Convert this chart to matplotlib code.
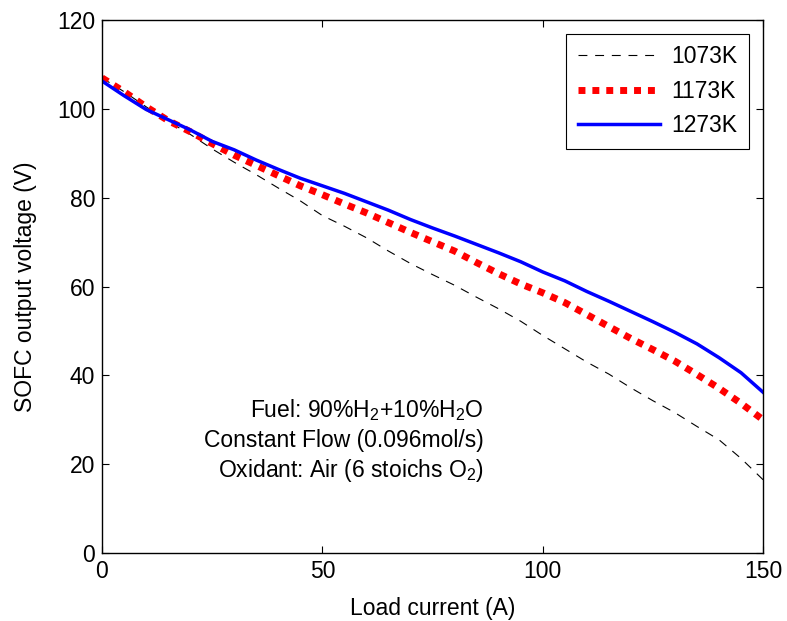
import matplotlib
matplotlib.use("Agg")
import matplotlib.pyplot as plt

# SOFC polarisation curves at three operating temperatures
current = [0, 5, 10, 15, 20, 25, 30, 35, 40, 45, 50, 55, 60, 65, 70, 75,
           80, 85, 90, 95, 100, 105, 110, 115, 120, 125, 130, 135, 140, 145, 150]

v_1073 = [107.0, 103.9, 100.5, 97.2, 94.3, 91.0, 88.0, 85.2, 82.2, 79.3,
          76.0, 73.6, 71.0, 68.0, 65.2, 62.7, 60.3, 57.6, 55.0, 52.2,
          49.0, 46.0, 43.0, 40.3, 37.2, 34.3, 31.6, 28.5, 25.5, 21.3, 16.5]

v_1173 = [107.0, 103.9, 100.5, 97.4, 94.9, 92.2, 89.6, 87.3, 85.0, 82.7,
          80.7, 78.6, 76.6, 74.4, 72.2, 70.1, 68.0, 65.4, 62.9, 60.6,
          58.6, 56.4, 53.7, 51.0, 48.3, 45.8, 43.2, 40.2, 37.1, 33.7, 30.0]

v_1273 = [106.3, 103.0, 99.9, 97.6, 95.3, 92.7, 90.8, 88.5, 86.4, 84.4,
          82.7, 81.0, 79.1, 77.2, 75.1, 73.2, 71.4, 69.5, 67.6, 65.6,
          63.3, 61.3, 58.9, 56.7, 54.4, 52.1, 49.7, 47.1, 44.0, 40.6, 36.2]

labels = ["1073K", "1173K", "1273K"]

plt.rcParams["font.family"] = ["Liberation Sans", "DejaVu Sans"]
plt.rcParams["mathtext.fontset"] = "custom"
plt.rcParams["mathtext.rm"] = "Liberation Sans"
plt.rcParams["mathtext.default"] = "regular"

FS = 16.5

fig = plt.figure(figsize=(7.87, 6.21), dpi=100)
ax = fig.add_axes([0.1296, 0.1095, 0.840, 0.858])

ax.plot(current, v_1073, color="black", linewidth=0.8,
        linestyle=(0, (8, 7)), label=labels[0])
ax.plot(current, v_1173, color="red", linewidth=5,
        linestyle=(0, (1, 1)), dash_capstyle="butt", label=labels[1])
ax.plot(current, v_1273, color="blue", linewidth=2.5, label=labels[2])

ax.set_xlim(0, 150)
ax.set_ylim(0, 120)
ax.set_xticks([0, 50, 100, 150])
ax.set_yticks(range(0, 121, 20))
ax.tick_params(direction="in", top=True, right=True, labelsize=FS,
               length=5, width=0.8, pad=5)
for s in ax.spines.values():
    s.set_linewidth(1.0)

ax.set_xlabel("Load current (A)", fontsize=FS, labelpad=10)
ax.set_ylabel("SOFC output voltage (V)", fontsize=FS, labelpad=14)

ax.text(86.6, 32.2, "Fuel: 90%H$_2$+10%H$_2$O", ha="right", va="center", fontsize=FS)
ax.text(86.6, 25.4, "Constant Flow (0.096mol/s)", ha="right", va="center", fontsize=FS)
ax.text(86.6, 18.5, "Oxidant: Air (6 stoichs O$_2$)", ha="right", va="center", fontsize=FS)

leg = ax.legend(loc="upper right", fontsize=FS, handlelength=3.6,
                handletextpad=0.5, fancybox=False, edgecolor="black",
                framealpha=1, borderpad=0.5, labelspacing=0.5,
                borderaxespad=0.6)
leg.get_frame().set_linewidth(0.8)

fig.savefig("out.png", dpi=100)
